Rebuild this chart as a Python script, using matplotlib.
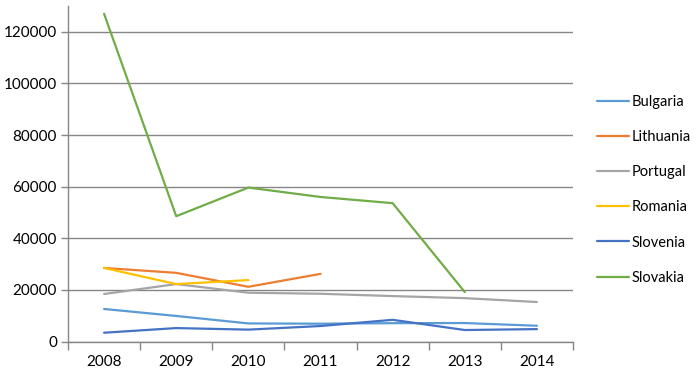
import numpy as np
import matplotlib
matplotlib.use('Agg')
import matplotlib.pyplot as plt

plt.rcParams['font.family'] = ['Lato', 'DejaVu Sans']

years = ['2008', '2009', '2010', '2011', '2012', '2013', '2014']
nan = np.nan
bulgaria = [12600, 9900, 7000, 6900, 7100, 7150, 6100]
lithuania = [28500, 26600, 21200, 26200, nan, nan, nan]
portugal = [18400, 22250, 18900, 18500, 17600, 16800, 15300]
romania = [28500, 22250, 23800, nan, nan, nan, nan]
slovenia = [3400, 5200, 4600, 6000, 8400, 4450, 4800]
slovakia = [127000, 48550, 59650, 56000, 53600, 19150, nan]

series = [
    ('Bulgaria', bulgaria, '#5B9BD5'),
    ('Lithuania', lithuania, '#ED7D31'),
    ('Portugal', portugal, '#A5A5A5'),
    ('Romania', romania, '#FFC000'),
    ('Slovenia', slovenia, '#4472C4'),
    ('Slovakia', slovakia, '#70AD47'),
]

fig = plt.figure(figsize=(7, 3.83), dpi=100)
ax = fig.add_axes([68 / 700, (383 - 341.5) / 383, 505 / 700, 335.5 / 383])

x = np.arange(len(years))
for name, vals, col in series:
    ax.plot(x, vals, color=col, linewidth=1.6, label=name, solid_capstyle='round')

grid_col = '#868686'
ax.set_xlim(-0.5, len(years) - 0.5)
ax.set_ylim(0, 130000)
ax.set_yticks(np.arange(0, 130000, 20000))
ax.yaxis.grid(True, color=grid_col, linewidth=1.0)
ax.set_axisbelow(True)

ax.set_xticks(x)
ax.set_xticklabels(years)
ax.set_xticks(np.arange(-0.5, len(years), 1.0), minor=True)
ax.tick_params(axis='x', which='major', length=0, pad=10, labelsize=11, colors='black')
ax.tick_params(axis='x', which='minor', length=6, width=1, color=grid_col)
ax.tick_params(axis='y', length=5, width=1, color=grid_col, labelsize=11, pad=3)

for s in ['top', 'right']:
    ax.spines[s].set_visible(False)
for s in ['left', 'bottom']:
    ax.spines[s].set_color(grid_col)
    ax.spines[s].set_linewidth(1.0)

leg = ax.legend(loc='upper left', bbox_to_anchor=(597 / 700, 1 - 95 / 383),
                bbox_transform=fig.transFigure, frameon=False, fontsize=10.5,
                borderpad=0, borderaxespad=0,
                handlelength=2.2, handletextpad=0.2, labelspacing=1.45)

fig.savefig('out.png', dpi=100)
